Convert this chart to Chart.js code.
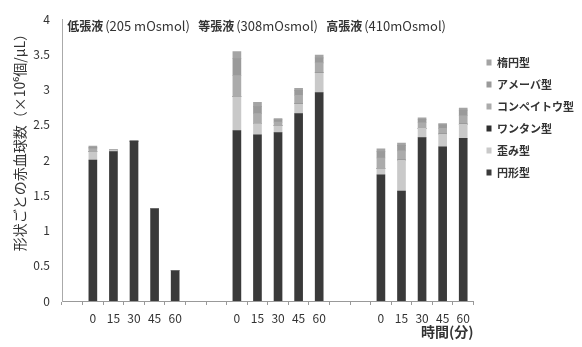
<!DOCTYPE html>
<html>
<head>
<meta charset="utf-8">
<script src="https://cdn.jsdelivr.net/npm/chart.js@4.4.1/dist/chart.umd.min.js"></script>
<style>
    body { margin: 0; background: #fff; }
    #wrap { width: 582px; height: 347px; }
</style>
</head>
<body>
<div id="wrap"><canvas id="chart"></canvas></div>
<script>
const times = ['0', '15', '30', '45', '60']
const groups = ['低張液', '等張液', '高張液']
const groupNotes = ['(205 mOsmol)', '(308mOsmol)', '(410mOsmol)']
const yTicks = [0, 0.5, 1, 1.5, 2, 2.5, 3, 3.5, 4]

// one value per bar: 低張液 0..60, 等張液 0..60, 高張液 0..60 (bottom of stack first)
const enkei = [2.0, 2.12, 2.27, 1.31, 0.43, 2.42, 2.36, 2.39, 2.66, 2.96, 1.79, 1.56, 2.32, 2.19, 2.31]
const yugami = [0.12, 0.02, 0, 0, 0, 0.48, 0.16, 0.1, 0.14, 0.28, 0.09, 0.44, 0.13, 0.18, 0.2]
const wantan = [0, 0, 0, 0, 0, 0, 0, 0, 0, 0, 0, 0, 0, 0, 0]
const konpeito = [0.04, 0.01, 0, 0, 0, 0.3, 0.14, 0.05, 0.12, 0.14, 0.15, 0.13, 0.08, 0.08, 0.12]
const ameba = [0.02, 0, 0, 0, 0, 0.24, 0.1, 0.03, 0.07, 0.07, 0.09, 0.08, 0.05, 0.05, 0.08]
const daen = [0.02, 0, 0, 0, 0, 0.1, 0.06, 0.02, 0.03, 0.04, 0.04, 0.03, 0.02, 0.02, 0.03]

const FONT = '"Noto Sans CJK JP", "Noto Sans", sans-serif'

// put the 5 time points of each group on the axis, with empty slots between groups
function spread(values, blank) {
    const out = [blank]
    groups.forEach((g, gi) => {
        if (gi > 0) out.push(blank, blank)
        for (let i = 0; i < times.length; i++) out.push(values[gi * times.length + i])
    })
    return out
}

const labels = spread(groups.flatMap(() => times), '')

// left edge of each group caption (category index) and its y value
const captionAt = [-0.25, 6.12, 12.34]
const captionY = 3.9

const groupCaptions = {
    id: 'groupCaptions',
    afterDatasetsDraw(chart) {
        const { ctx, scales: { x, y } } = chart
        ctx.save()
        ctx.fillStyle = '#333'
        ctx.textBaseline = 'middle'
        ctx.textAlign = 'left'
        groups.forEach((g, i) => {
            const left = x.getPixelForValue(captionAt[i])
            const py = y.getPixelForValue(captionY)
            ctx.font = 'bold 12px ' + FONT
            ctx.fillText(g, left, py)
            const w1 = ctx.measureText(g).width
            ctx.font = '13px ' + FONT
            ctx.fillText(groupNotes[i], left + w1 + 2, py)
        })
        ctx.restore()
    }
}

// legend sits a bit further right than chart.js puts it
const legendNudge = {
    id: 'legendNudge',
    afterLayout(chart) {
        chart.legend.left += 2
        chart.legend.right += 2
    }
}

const series = [
    { label: '円形型', data: enkei, color: '#3a3a3a' },
    { label: '歪み型', data: yugami, color: '#c9c9c9' },
    { label: 'ワンタン型', data: wantan, color: '#2e2e2e' },
    { label: 'コンペイトウ型', data: konpeito, color: '#ababab' },
    { label: 'アメーバ型', data: ameba, color: '#9a9a9a' },
    { label: '楕円型', data: daen, color: '#a4a4a4' }
]

new Chart(document.getElementById('chart'), {
    type: 'bar',
    data: {
        labels: labels,
        datasets: series.map(s => ({
            label: s.label,
            data: spread(s.data, null),
            backgroundColor: s.color,
            borderWidth: 0,
            barThickness: 8
        }))
    },
    plugins: [groupCaptions, legendNudge],
    options: {
        responsive: true,
        maintainAspectRatio: false,
        animation: false,
        layout: { padding: { top: 12, right: 0, left: 0, bottom: 0 } },
        plugins: {
            tooltip: { enabled: false },
            legend: {
                position: 'right',
                align: 'start',
                reverse: true,
                title: { display: true, text: ' ', font: { size: 10 }, padding: { top: 22, bottom: 0 } },
                labels: {
                    boxWidth: 5,
                    boxHeight: 6,
                    padding: 11,
                    color: '#333',
                    font: { family: FONT, size: 11, weight: 'bold' }
                }
            }
        },
        scales: {
            x: {
                stacked: true,
                afterFit(scale) { scale.height = 46 },
                grid: { offset: true, drawOnChartArea: false, drawTicks: true, tickLength: 4, color: '#999' },
                border: { color: '#999' },
                ticks: {
                    autoSkip: false,
                    maxRotation: 0,
                    padding: 6,
                    color: '#333',
                    font: { family: FONT, size: 12 }
                },
                title: {
                    display: true,
                    text: '時間(分)',
                    align: 'end',
                    color: '#333',
                    font: { family: FONT, size: 14, weight: 'bold' },
                    padding: { top: 0, bottom: 7 }
                }
            },
            y: {
                stacked: true,
                min: 0,
                max: 4,
                afterFit(scale) { scale.width = 62 },
                afterBuildTicks(scale) { scale.ticks = yTicks.map(v => ({ value: v })) },
                grid: { display: false, drawTicks: false },
                border: { color: '#aaa' },
                ticks: {
                    padding: 12,
                    color: '#333',
                    font: { family: FONT, size: 12 },
                    callback: v => String(v)
                },
                title: {
                    display: true,
                    // leading blanks lift the title a little, as in the original
                    text: '\u3000\u3000\u3000形状ごとの赤血球数（×10⁶個/μL）',
                    color: '#333',
                    font: { family: FONT, size: 14 },
                    padding: { top: 11, bottom: 0 }
                }
            }
        }
    }
})
</script>
</body>
</html>
